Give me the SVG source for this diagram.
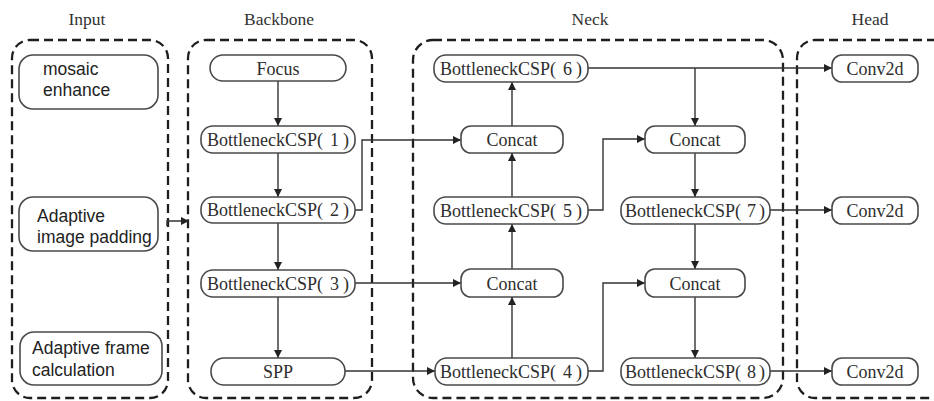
<svg xmlns="http://www.w3.org/2000/svg" width="934" height="401" viewBox="0 0 934 401">
<style>
.grp{fill:none;stroke:#1e1e1e;stroke-width:2.3;stroke-dasharray:9 5}
.title{font-family:"Liberation Serif","Times New Roman",serif;font-size:17.5px;fill:#333;text-anchor:middle}
.box{fill:#fff;stroke:#4a4a4a;stroke-width:1.6}
.lbl{font-family:"Liberation Serif","Times New Roman",serif;font-size:18px;fill:#2e2e2e;text-anchor:middle}
.csp{font-family:"Liberation Serif","Times New Roman",serif;font-size:18px;fill:#2e2e2e;text-anchor:middle}
.in{font-family:"Liberation Sans",Arial,sans-serif;font-size:17.5px;fill:#222}
.ln{fill:none;stroke:#333;stroke-width:1.4}
</style>
<defs>
<marker id="ah" viewBox="0 0 10 10" refX="10" refY="5" markerWidth="8" markerHeight="8" markerUnits="userSpaceOnUse" orient="auto">
<path d="M0,0 L10,5 L0,10 z" fill="#222"/>
</marker>
</defs>
<rect width="934" height="401" fill="#fff"/>
<g id="groups">
<rect class="grp" x="12" y="40" width="156" height="358" rx="18"/>
<rect class="grp" x="188" y="40" width="184" height="358" rx="18"/>
<rect class="grp" x="413" y="40" width="370" height="358" rx="20"/>
<rect class="grp" x="797" y="40" width="170" height="358" rx="18"/>
<text class="title" x="87" y="25">Input</text>
<text class="title" x="279" y="25">Backbone</text>
<text class="title" x="590" y="25">Neck</text>
<text class="title" x="870" y="25">Head</text>
</g>
<g id="connectors">
<path class="ln" d="M167,226 V221 H189" marker-end="url(#ah)"/>
<path class="ln" d="M278,81 V126" marker-end="url(#ah)"/>
<path class="ln" d="M278,153 V197" marker-end="url(#ah)"/>
<path class="ln" d="M278,223 V270" marker-end="url(#ah)"/>
<path class="ln" d="M278,297 V358" marker-end="url(#ah)"/>
<path class="ln" d="M355,210 H362 V140 H461" marker-end="url(#ah)"/>
<path class="ln" d="M355,283 H461" marker-end="url(#ah)"/>
<path class="ln" d="M345,371 H435" marker-end="url(#ah)"/>
<path class="ln" d="M512,358 V297" marker-end="url(#ah)"/>
<path class="ln" d="M512,269 V224" marker-end="url(#ah)"/>
<path class="ln" d="M512,197 V153" marker-end="url(#ah)"/>
<path class="ln" d="M512,126 V82" marker-end="url(#ah)"/>
<path class="ln" d="M588,68 H832" marker-end="url(#ah)"/>
<path class="ln" d="M695,68 V126" marker-end="url(#ah)"/>
<path class="ln" d="M588,210 H603 V139 H645" marker-end="url(#ah)"/>
<path class="ln" d="M695,153 V197" marker-end="url(#ah)"/>
<path class="ln" d="M770,210 H832" marker-end="url(#ah)"/>
<path class="ln" d="M695,224 V269" marker-end="url(#ah)"/>
<path class="ln" d="M588,371 H603 V283 H645" marker-end="url(#ah)"/>
<path class="ln" d="M695,297 V358" marker-end="url(#ah)"/>
<path class="ln" d="M770,371 H832" marker-end="url(#ah)"/>
</g>
<g id="mosaic">
<rect class="box" x="19" y="55" width="139" height="54" rx="14"/>
<text class="in" x="43" y="75">mosaic</text>
<text class="in" x="43" y="96">enhance</text>
</g>
<g id="padding">
<rect class="box" x="19" y="197" width="139" height="54" rx="14"/>
<text class="in" x="37" y="222">Adaptive</text>
<text class="in" x="37" y="243">image padding</text>
</g>
<g id="frame">
<rect class="box" x="20" y="332" width="142" height="53" rx="14"/>
<text class="in" x="32" y="354">Adaptive frame</text>
<text class="in" x="32" y="376">calculation</text>
</g>
<g id="focus">
<rect class="box" x="210" y="55" width="136" height="26" rx="13"/>
<text class="lbl" x="278" y="75">Focus</text>
</g>
<g id="csp1">
<rect class="box" x="201" y="126" width="154" height="27" rx="12"/>
<text class="csp" x="278" y="146">BottleneckCSP(<tspan dx="7">1</tspan><tspan dx="4">)</tspan></text>
</g>
<g id="csp2">
<rect class="box" x="201" y="197" width="154" height="26" rx="12"/>
<text class="csp" x="278" y="216">BottleneckCSP(<tspan dx="7">2</tspan><tspan dx="4">)</tspan></text>
</g>
<g id="csp3">
<rect class="box" x="201" y="270" width="154" height="27" rx="12"/>
<text class="csp" x="278" y="290">BottleneckCSP(<tspan dx="7">3</tspan><tspan dx="4">)</tspan></text>
</g>
<g id="spp">
<rect class="box" x="211" y="358" width="134" height="27" rx="13"/>
<text class="lbl" x="278" y="378">SPP</text>
</g>
<g id="csp6">
<rect class="box" x="434" y="55" width="154" height="27" rx="12"/>
<text class="csp" x="511" y="75">BottleneckCSP(<tspan dx="7">6</tspan><tspan dx="4">)</tspan></text>
</g>
<g id="concat1">
<rect class="box" x="461" y="126" width="102" height="27" rx="10"/>
<text class="lbl" x="512" y="146">Concat</text>
</g>
<g id="csp5">
<rect class="box" x="434" y="197" width="154" height="27" rx="12"/>
<text class="csp" x="511" y="217">BottleneckCSP(<tspan dx="7">5</tspan><tspan dx="4">)</tspan></text>
</g>
<g id="concat2">
<rect class="box" x="461" y="269" width="102" height="28" rx="10"/>
<text class="lbl" x="512" y="290">Concat</text>
</g>
<g id="csp4">
<rect class="box" x="435" y="358" width="153" height="27" rx="12"/>
<text class="csp" x="511" y="378">BottleneckCSP(<tspan dx="7">4</tspan><tspan dx="4">)</tspan></text>
</g>
<g id="concat3">
<rect class="box" x="645" y="126" width="100" height="27" rx="10"/>
<text class="lbl" x="695" y="146">Concat</text>
</g>
<g id="csp7">
<rect class="box" x="621" y="197" width="149" height="27" rx="12"/>
<text class="csp" x="695" y="217">BottleneckCSP(<tspan dx="6">7</tspan><tspan dx="3">)</tspan></text>
</g>
<g id="concat4">
<rect class="box" x="645" y="269" width="100" height="28" rx="10"/>
<text class="lbl" x="695" y="290">Concat</text>
</g>
<g id="csp8">
<rect class="box" x="621" y="358" width="149" height="27" rx="12"/>
<text class="csp" x="695" y="378">BottleneckCSP(<tspan dx="6">8</tspan><tspan dx="3">)</tspan></text>
</g>
<g id="conv1">
<rect class="box" x="832" y="55" width="86" height="27" rx="10"/>
<text class="lbl" x="875" y="75">Conv2d</text>
</g>
<g id="conv2">
<rect class="box" x="832" y="197" width="86" height="27" rx="10"/>
<text class="lbl" x="875" y="217">Conv2d</text>
</g>
<g id="conv3">
<rect class="box" x="832" y="358" width="86" height="27" rx="10"/>
<text class="lbl" x="875" y="378">Conv2d</text>
</g>
</svg>
